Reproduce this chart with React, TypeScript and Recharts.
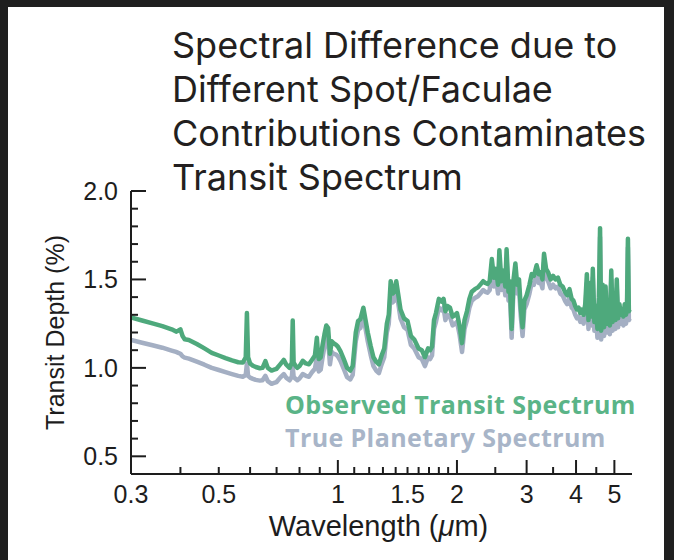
import React from 'react';
import { LineChart, Line, XAxis, YAxis, Label } from 'recharts';

// wavelength grid (micron), 10 per row
const wavelength = [
  0.30, 0.32, 0.34, 0.36, 0.38, 0.39, 0.395, 0.40, 0.405, 0.41,
  0.42, 0.44, 0.46, 0.48, 0.50, 0.52, 0.54, 0.56, 0.575, 0.585,
  0.589, 0.593, 0.60, 0.61, 0.62, 0.635, 0.645, 0.656, 0.665, 0.68,
  0.69, 0.70, 0.715, 0.73, 0.74, 0.755, 0.765, 0.769, 0.773, 0.78,
  0.79, 0.80, 0.815, 0.83, 0.845, 0.86, 0.875, 0.885, 0.89, 0.895,
  0.905, 0.915, 0.925, 0.935, 0.945, 0.955, 0.965, 0.975, 0.99, 1.00,
  1.015, 1.035, 1.055, 1.075, 1.09, 1.11, 1.125, 1.14, 1.16, 1.175,
  1.19, 1.21, 1.23, 1.25, 1.27, 1.29, 1.31, 1.33, 1.345, 1.36,
  1.375, 1.39, 1.405, 1.42, 1.44, 1.47, 1.50, 1.53, 1.56, 1.60,
  1.63, 1.66, 1.69, 1.71, 1.73, 1.75, 1.77, 1.80, 1.83, 1.85,
  1.87, 1.89, 1.92, 1.95, 1.98, 2.00, 2.03, 2.06, 2.09, 2.12,
  2.15, 2.18, 2.22, 2.26, 2.30, 2.33, 2.36, 2.39, 2.42, 2.45,
  2.48, 2.51, 2.54, 2.56, 2.59, 2.62, 2.65, 2.67, 2.70, 2.72,
  2.75, 2.78, 2.81, 2.84, 2.87, 2.90, 2.93, 2.96, 3.00, 3.05,
  3.09, 3.13, 3.18, 3.22, 3.25, 3.29, 3.32, 3.36, 3.40, 3.45,
  3.50, 3.55, 3.60, 3.65, 3.70, 3.75, 3.80, 3.85, 3.90, 3.94,
  3.98, 4.02, 4.06, 4.10, 4.14, 4.18, 4.22, 4.26, 4.30, 4.34,
  4.38, 4.41, 4.45, 4.49, 4.53, 4.57, 4.60, 4.63, 4.67, 4.71,
  4.75, 4.79, 4.83, 4.87, 4.91, 4.95, 4.99, 5.03, 5.07, 5.11,
  5.15, 5.19, 5.23, 5.27, 5.31, 5.35, 5.38, 5.41, 5.44, 5.47,
];

// observed transit depth (%)
const observed = [
  1.285, 1.268, 1.252, 1.236, 1.218, 1.205, 1.21, 1.218, 1.18, 1.162,
  1.158, 1.135, 1.11, 1.085, 1.07, 1.055, 1.042, 1.032, 1.03, 1.06,
  1.31, 1.06, 1.025, 1.012, 1.005, 0.998, 1.0, 1.038, 1.0, 0.985,
  0.99, 0.995, 1.02, 1.045, 1.02, 1.0, 1.03, 1.268, 1.03, 1.015,
  1.0, 1.01, 1.04, 1.025, 1.02, 1.045, 1.07, 1.17, 1.09, 1.05,
  1.06, 1.13, 1.19, 1.24, 1.225, 1.08, 1.15, 1.14, 1.13, 1.12,
  1.095, 1.05, 1.0, 0.985, 1.01, 1.2, 1.265, 1.275, 1.34, 1.27,
  1.2, 1.125, 1.06, 1.035, 1.02, 1.07, 1.11, 1.25, 1.3, 1.49,
  1.42, 1.43, 1.49, 1.42, 1.33, 1.28, 1.265, 1.18, 1.16, 1.11,
  1.1, 1.06, 1.11, 1.1, 1.12, 1.27, 1.31, 1.39, 1.375, 1.39,
  1.32, 1.35, 1.34, 1.29, 1.3, 1.31, 1.24, 1.14, 1.27, 1.32,
  1.39, 1.43, 1.445, 1.455, 1.475, 1.49, 1.48, 1.475, 1.49, 1.615,
  1.51, 1.56, 1.47, 1.665, 1.49, 1.55, 1.46, 1.67, 1.43, 1.49,
  1.22, 1.5, 1.59, 1.47, 1.5, 1.34, 1.23, 1.38, 1.41, 1.47,
  1.53, 1.52, 1.58, 1.53, 1.54, 1.5, 1.645, 1.56, 1.54, 1.5,
  1.52, 1.5, 1.51, 1.47, 1.46, 1.43, 1.41, 1.445, 1.39, 1.38,
  1.35, 1.33, 1.34, 1.31, 1.33, 1.3, 1.36, 1.53, 1.27, 1.48,
  1.29, 1.56, 1.26, 1.35, 1.22, 1.4, 1.79, 1.21, 1.47, 1.23,
  1.46, 1.25, 1.32, 1.24, 1.55, 1.26, 1.42, 1.27, 1.5, 1.28,
  1.36, 1.3, 1.33, 1.29, 1.36, 1.3, 1.34, 1.73, 1.32, 1.33,
];

// true planetary spectrum (%)
const planetary = [
  1.158, 1.142, 1.128, 1.114, 1.098, 1.09, 1.085, 1.08, 1.065, 1.058,
  1.052, 1.035, 1.018, 1.0, 0.988, 0.976, 0.965, 0.955, 0.95, 0.96,
  1.025, 0.955, 0.945, 0.938, 0.932, 0.928, 0.93, 0.955, 0.925, 0.91,
  0.915, 0.92, 0.945, 0.965, 0.945, 0.93, 0.95, 1.01, 0.95, 0.94,
  0.93, 0.94, 0.965, 0.955, 0.95, 0.975, 0.995, 1.06, 1.01, 0.98,
  0.99, 1.06, 1.12, 1.17, 1.16, 1.02, 1.09, 1.08, 1.075, 1.065,
  1.04, 0.995, 0.948, 0.935, 0.96, 1.15, 1.215, 1.225, 1.29, 1.22,
  1.15, 1.075, 1.01, 0.985, 0.97, 1.02, 1.06, 1.2, 1.25, 1.44,
  1.37, 1.38, 1.44, 1.37, 1.28, 1.23, 1.215, 1.13, 1.11, 1.06,
  1.05, 1.01, 1.06, 1.05, 1.07, 1.22, 1.26, 1.34, 1.325, 1.34,
  1.27, 1.3, 1.29, 1.24, 1.25, 1.26, 1.19, 1.09, 1.22, 1.27,
  1.34, 1.38, 1.395, 1.405, 1.425, 1.44, 1.43, 1.425, 1.44, 1.56,
  1.46, 1.51, 1.42, 1.61, 1.44, 1.5, 1.41, 1.62, 1.38, 1.44,
  1.17, 1.45, 1.54, 1.42, 1.45, 1.29, 1.18, 1.33, 1.36, 1.42,
  1.48, 1.47, 1.53, 1.48, 1.49, 1.45, 1.595, 1.51, 1.49, 1.45,
  1.47, 1.45, 1.46, 1.42, 1.41, 1.38, 1.36, 1.395, 1.34, 1.33,
  1.3, 1.28, 1.29, 1.26, 1.28, 1.25, 1.31, 1.48, 1.22, 1.43,
  1.24, 1.51, 1.21, 1.3, 1.17, 1.35, 1.74, 1.16, 1.42, 1.18,
  1.41, 1.2, 1.27, 1.19, 1.5, 1.21, 1.37, 1.22, 1.45, 1.23,
  1.31, 1.25, 1.28, 1.24, 1.31, 1.25, 1.29, 1.68, 1.27, 1.28,
];

const xTicks = [0.3, 0.4, 0.5, 0.6, 0.7, 0.8, 0.9, 1, 1.1, 1.2, 1.3, 1.4, 1.5, 1.6, 1.7, 1.8, 1.9, 2, 2.5, 3, 3.5, 4, 4.5, 5];
const xMajor = [1, 2, 3, 4, 5];
const xLabeled = [0.3, 0.5, 1, 1.5, 2, 3, 4, 5];

const yTicks = [0.5, 0.6, 0.7, 0.8, 0.9, 1.0, 1.1, 1.2, 1.3, 1.4, 1.5, 1.6, 1.7, 1.8, 1.9, 2.0];
const yLabeled = [0.5, 1.0, 1.5, 2.0];

const titleLines = [
  'Spectral Difference due to',
  'Different Spot/Faculae',
  'Contributions Contaminates',
  'Transit Spectrum',
];

const GREEN = '#4ea97c';
const GRAY = '#a4afc3';
const INK = '#1d1d1d';
const AXIS_FONT = '"Liberation Sans", Arial, sans-serif';
const TITLE_FONT = 'Inter, "Open Sans", sans-serif';
const LEGEND_FONT = '"Open Sans", sans-serif';

const data = wavelength.map((wl, i) => ({
  wl,
  observed: observed[i],
  planetary: planetary[i],
}));

const XTick = (props: any) => {
  const { x, y, payload } = props;
  const v = payload.value;
  const len = v === 0.3 ? 0 : xMajor.includes(v) ? 14 : 7;
  return (
    <g>
      {len > 0 && <line x1={x} x2={x} y1={y} y2={y - len} stroke={INK} strokeWidth={2} />}
      {xLabeled.includes(v) && (
        <text x={x} y={y + 29} textAnchor="middle" fontSize={25} fontFamily={AXIS_FONT} fill={INK}>
          {v}
        </text>
      )}
    </g>
  );
};

const YTick = (props: any) => {
  const { x, y, payload } = props;
  const v = payload.value;
  const major = yLabeled.some((m) => Math.abs(m - v) < 1e-6);
  return (
    <g>
      <line x1={x} x2={x + (major ? 15 : 7)} y1={y} y2={y} stroke={INK} strokeWidth={2} />
      {major && (
        <text x={x - 13} y={y} dy="0.36em" textAnchor="end" fontSize={25} fontFamily={AXIS_FONT} fill={INK}>
          {v.toFixed(1)}
        </text>
      )}
    </g>
  );
};

const XAxisTitle = (props: any) => {
  const { viewBox } = props;
  const cx = viewBox.x + viewBox.width / 2 - 3;
  return (
    <text x={cx} y={536} textAnchor="middle" fontSize={29} fontFamily={AXIS_FONT} fill={INK}>
      Wavelength (<tspan fontStyle="italic">μ</tspan>m)
    </text>
  );
};

export default function App() {
  return (
    <div style={{ position: 'absolute', left: 0, top: 0, width: 674, height: 560, background: '#1f1f1f', overflow: 'hidden' }}>
      <div style={{ position: 'absolute', left: 8, top: 7, width: 656, height: 553, background: '#ffffff' }} />
      <div style={{ position: 'absolute', left: 0, top: 0 }}>
        <LineChart width={674} height={560} data={data} margin={{ top: 191, right: 42, bottom: 26, left: 20 }}>
          <XAxis
            dataKey="wl"
            type="number"
            scale="log"
            domain={[0.3, 5.54]}
            allowDataOverflow
            ticks={xTicks}
            interval={0}
            height={60}
            tickSize={0}
            tickMargin={0}
            tickLine={false}
            axisLine={{ stroke: INK, strokeWidth: 2 }}
            tick={<XTick />}
          >
            <Label content={<XAxisTitle />} />
          </XAxis>
          <YAxis
            type="number"
            domain={[0.4, 2.0]}
            allowDataOverflow
            ticks={yTicks}
            interval={0}
            width={111}
            tickSize={0}
            tickMargin={0}
            tickLine={false}
            axisLine={{ stroke: INK, strokeWidth: 2 }}
            tick={<YTick />}
          >
            <Label
              value="Transit Depth (%)"
              angle={-90}
              position="insideLeft"
              offset={35}
              style={{ fontSize: 25, fontFamily: AXIS_FONT, fill: INK, textAnchor: 'middle' }}
            />
          </YAxis>
          <Line
            type="linear"
            dataKey="planetary"
            stroke={GRAY}
            strokeWidth={4.5}
            strokeLinejoin="round"
            dot={false}
            activeDot={false}
            isAnimationActive={false}
          />
          <Line
            type="linear"
            dataKey="observed"
            stroke={GREEN}
            strokeWidth={4.5}
            strokeLinejoin="round"
            dot={false}
            activeDot={false}
            isAnimationActive={false}
          />
        </LineChart>
      </div>
      <svg width={674} height={560} style={{ position: 'absolute', left: 0, top: 0, pointerEvents: 'none' }}>
        {titleLines.map((t, i) => (
          <text key={t} x={172} y={58 + i * 44} fontSize={36} fontFamily={TITLE_FONT} fill="#231f20">
            {t}
          </text>
        ))}
        <text x={285} y={414} fontSize={25} fontWeight={700} letterSpacing={0.4} fontFamily={LEGEND_FONT} fill="#5ab487">
          Observed Transit Spectrum
        </text>
        <text x={285} y={447} fontSize={25} fontWeight={700} letterSpacing={0.4} fontFamily={LEGEND_FONT} fill="#a8b5c8">
          True Planetary Spectrum
        </text>
      </svg>
    </div>
  );
}
